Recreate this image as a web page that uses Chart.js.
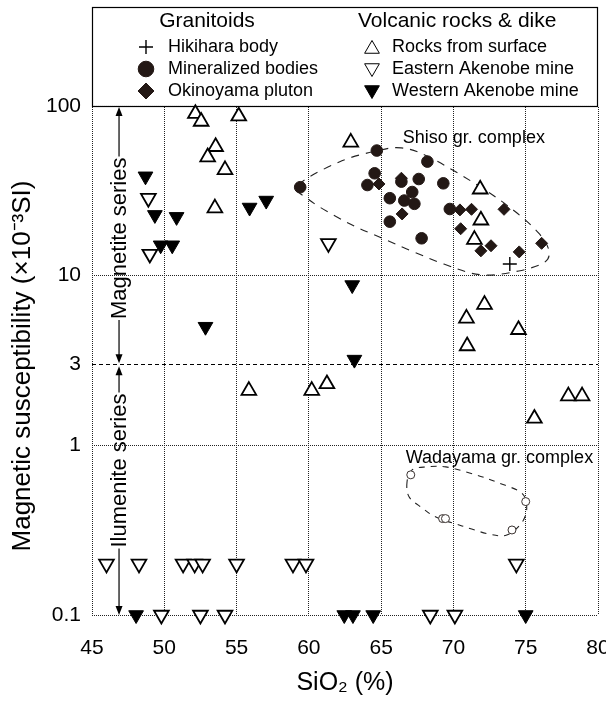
<!DOCTYPE html>
<html>
<head>
<meta charset="utf-8">
<script src="https://cdn.jsdelivr.net/npm/chart.js@4.4.0/dist/chart.umd.min.js"></script>
<style>
  html, body { margin: 0; padding: 0; background: #fff; }
  #wrap { width: 606px; height: 702px; }
</style>
</head>
<body>
<div id="wrap"><canvas id="chart"></canvas></div>
<script>
// ======= data (SiO2 %, magnetic susceptibility x10^-3 SI) =======
const xTicks = [45, 50, 55, 60, 65, 70, 75, 80];
const yTicks = [0.1, 1, 3, 10, 100];

const hikihara = [[73.9, 11.7]];

const mineralized = [
  [59.4, 33.2], [64.7, 54.6], [68.2, 47.0], [64.55, 40.1], [64.05, 34.2],
  [66.4, 35.8], [67.6, 37.1], [69.3, 35.0], [65.6, 28.6], [67.15, 31.1],
  [66.6, 27.7], [67.3, 26.5], [65.6, 20.8], [67.8, 16.6], [69.75, 24.7]
];

const okinoyama = [
  [64.85, 34.7], [66.4, 37.5], [66.45, 23.1], [70.45, 24.4], [71.25, 24.6],
  [73.5, 24.6], [70.5, 18.9], [71.9, 14.0], [72.6, 15.0], [74.55, 13.8], [76.1, 15.5]
];

const surface = [
  [52.15, 90], [52.55, 81], [55.15, 87], [53.55, 57.5], [53.0, 50], [54.2, 42],
  [53.5, 25], [62.9, 61], [71.85, 32.3], [71.9, 21.2], [71.45, 16.3], [72.15, 6.75],
  [70.9, 5.6], [74.5, 4.8], [70.95, 3.85], [55.85, 2.1], [60.2, 2.1], [61.25, 2.3],
  [77.95, 1.95], [78.9, 1.95], [75.6, 1.44]
];

const eastern = [
  [48.9, 28.6], [49.0, 13.4], [61.35, 15.5],
  [46.0, 0.2], [48.25, 0.2], [51.3, 0.2], [52.1, 0.2], [52.65, 0.2], [55.0, 0.2],
  [58.9, 0.2], [59.8, 0.2], [74.35, 0.2],
  [49.8, 0.1], [52.5, 0.1], [54.2, 0.1], [68.4, 0.1], [70.1, 0.1]
];

const western = [
  [48.7, 38.5], [49.35, 22.8], [50.85, 22.2], [49.75, 15.1], [50.55, 15.1],
  [55.9, 25.2], [57.05, 27.7], [52.85, 5.0], [63.0, 8.8], [63.15, 3.2],
  [48.05, 0.1], [62.45, 0.1], [63.05, 0.1], [64.45, 0.1], [75.0, 0.1]
];

const wadayama = [[67.05, 0.67], [69.25, 0.37], [69.45, 0.37], [75.0, 0.466], [74.05, 0.317]];

// outlines of the two complexes (data coords)
const shisoOutline = [
  [59.28, 34.2], [62.1, 46.8], [64.66, 54.3], [66.38, 56.6], [68.31, 50.1],
  [71.97, 32.9], [74.31, 23.7], [75.9, 17.8], [76.59, 14.2], [76.31, 12.0],
  [74.52, 10.66], [71.97, 10.1], [69.34, 11.7], [65.0, 16.7], [62.59, 20.7], [60.03, 27.9]
];
const wadayamaOutline = [
  [66.79, 0.608], [66.93, 0.497], [67.83, 0.428], [68.79, 0.378], [70.59, 0.335],
  [72.45, 0.30], [73.69, 0.296], [74.72, 0.349], [75.07, 0.428], [74.72, 0.524],
  [73.14, 0.60], [71.55, 0.67], [69.48, 0.746], [68.1, 0.746], [67.14, 0.716]
];

const F = '"Liberation Sans", Arial, Helvetica, sans-serif';
const DARK = '#231815';

const toXY = arr => arr.map(([x, y]) => ({ x, y }));

// marker styles, shared by datasets and legend
const styles = {
  hikihara:    { pointStyle: 'cross', radius: 7, rotation: 0, borderWidth: 1.4, fill: '#000', stroke: '#000' },
  mineralized: { pointStyle: 'circle', radius: 5.8, rotation: 0, borderWidth: 1, fill: DARK, stroke: DARK },
  okinoyama:   { pointStyle: 'rectRot', radius: 6, rotation: 0, borderWidth: 1, fill: DARK, stroke: DARK },
  surface:     { pointStyle: 'triangle', radius: 8.5, rotation: 0, borderWidth: 1.8, fill: '#fff', stroke: '#000' },
  eastern:     { pointStyle: 'triangle', radius: 8.5, rotation: 180, borderWidth: 1.8, fill: '#fff', stroke: '#000' },
  western:     { pointStyle: 'triangle', radius: 8.5, rotation: 180, borderWidth: 1, fill: '#000', stroke: '#000' },
  wadayama:    { pointStyle: 'circle', radius: 4, rotation: 0, borderWidth: 1, fill: '#fff', stroke: '#3a3230' }
};

function ds(label, arr, s) {
  return {
    label, data: toXY(arr),
    pointStyle: s.pointStyle, pointRadius: s.radius, pointRotation: s.rotation,
    pointBorderWidth: s.borderWidth, pointBackgroundColor: s.fill, pointBorderColor: s.stroke,
    showLine: false, clip: false
  };
}

// ======= drawing helpers =======
function drawLoop(ctx, pts, xs, ys, dash) {
  const p = pts.map(([a, b]) => [xs.getPixelForValue(a), ys.getPixelForValue(b)]);
  const n = p.length;
  ctx.beginPath();
  ctx.moveTo(p[0][0], p[0][1]);
  for (let i = 0; i < n; i++) {
    const p0 = p[(i - 1 + n) % n], p1 = p[i], p2 = p[(i + 1) % n], p3 = p[(i + 2) % n];
    ctx.bezierCurveTo(
      p1[0] + (p2[0] - p0[0]) / 6, p1[1] + (p2[1] - p0[1]) / 6,
      p2[0] - (p3[0] - p1[0]) / 6, p2[1] - (p3[1] - p1[1]) / 6,
      p2[0], p2[1]);
  }
  ctx.setLineDash(dash);
  ctx.lineWidth = 1.1;
  ctx.strokeStyle = '#222';
  ctx.stroke();
  ctx.setLineDash([]);
}

function arrowHead(ctx, x, y, dir) { // dir 1 = down, -1 = up
  ctx.beginPath();
  ctx.moveTo(x, y);
  ctx.lineTo(x - 3.5, y - dir * 9);
  ctx.lineTo(x + 3.5, y - dir * 9);
  ctx.closePath();
  ctx.fill();
}

// vertical arrow with rotated text in the middle
function seriesArrow(ctx, x, yTop, yBot, yText, text) {
  ctx.save();
  ctx.font = '22px ' + F;
  const w = ctx.measureText(text).width;
  ctx.strokeStyle = '#000';
  ctx.fillStyle = '#000';
  ctx.lineWidth = 1.2;
  ctx.beginPath();
  ctx.moveTo(x, yTop + 4);
  ctx.lineTo(x, yText - w / 2 - 1);
  ctx.moveTo(x, yText + w / 2 + 1);
  ctx.lineTo(x, yBot - 4);
  ctx.stroke();
  arrowHead(ctx, x, yTop, -1);
  arrowHead(ctx, x, yBot, 1);
  ctx.translate(x, yText);
  ctx.rotate(-Math.PI / 2);
  ctx.textAlign = 'center';
  ctx.textBaseline = 'middle';
  ctx.fillText(text, 0, 1);
  ctx.restore();
}

const overlay = {
  id: 'overlay',
  beforeDatasetsDraw(chart) {
    const { ctx, chartArea: a, scales: { x, y } } = chart;
    const y100 = y.getPixelForValue(100);
    ctx.save();
    // legend box over the top of the plot
    ctx.fillStyle = '#fff';
    ctx.fillRect(a.left - 1, a.top - 1, a.right - a.left + 2, y100 - a.top + 1);
    ctx.strokeStyle = '#000';
    ctx.lineWidth = 1.2;
    ctx.strokeRect(a.left + 0.5, a.top + 0.5, a.right - a.left - 1, Math.round(y100) - a.top);

    drawLoop(ctx, shisoOutline, x, y, [8, 7]);
    drawLoop(ctx, wadayamaOutline, x, y, [6, 6]);

    // series arrows
    const ax = x.getPixelForValue(46.87);
    seriesArrow(ctx, ax, y100 + 1, y.getPixelForValue(3) - 1, y.getPixelForValue(16.6), 'Magnetite series');
    seriesArrow(ctx, ax, y.getPixelForValue(3) + 2, y.getPixelForValue(0.1), y.getPixelForValue(0.71), 'Ilumenite series');

    // complex labels
    ctx.fillStyle = '#000';
    ctx.font = '18px ' + F;
    ctx.textAlign = 'left';
    ctx.textBaseline = 'middle';
    ctx.fillText('Shiso gr. complex', x.getPixelForValue(66.5), y.getPixelForValue(64.8));
    ctx.fillText('Wadayama gr. complex', x.getPixelForValue(66.7), y.getPixelForValue(0.84));

    // y axis title, centred like the original (not on the axis middle)
    ctx.save();
    ctx.font = '26px ' + F;
    ctx.textAlign = 'center';
    ctx.textBaseline = 'middle';
    ctx.translate(23, 366);
    ctx.rotate(-Math.PI / 2);
    ctx.fillText('Magnetic susceptibility (×10⁻³SI)', 0, 0);
    ctx.restore();
    ctx.restore();
  },
  afterDatasetsDraw(chart) {
    const { ctx, chartArea: a } = chart;
    ctx.save();
    ctx.fillStyle = '#000';
    ctx.textBaseline = 'middle';
    ctx.font = '21px ' + F;
    ctx.textAlign = 'center';
    ctx.fillText('Granitoids', 207, a.top + 14);
    ctx.textAlign = 'left';
    ctx.fillText('Volcanic rocks & dike', 358, a.top + 14);

    const rows = [a.top + 40, a.top + 62, a.top + 84];
    const items = [
      ['hikihara', 'Hikihara body', 146, 168, 0],
      ['mineralized', 'Mineralized bodies', 146, 168, 1],
      ['okinoyama', 'Okinoyama pluton', 146, 168, 2],
      ['surface', 'Rocks from surface', 372, 392, 0],
      ['eastern', 'Eastern Akenobe mine', 372, 392, 1],
      ['western', 'Western Akenobe mine', 372, 392, 2]
    ];
    ctx.font = '18px ' + F;
    items.forEach(([key, text, mx, tx, r]) => {
      const s = styles[key];
      const big = key === 'mineralized' || key === 'okinoyama';
      ctx.fillStyle = s.fill;
      ctx.strokeStyle = s.stroke;
      ctx.lineWidth = key === 'surface' || key === 'eastern' ? 1 : s.borderWidth;
      const yy = rows[r] + (s.pointStyle === 'triangle' ? (s.rotation ? -1 : 2) : 0);
      Chart.helpers.drawPoint(ctx, {
        pointStyle: s.pointStyle, radius: big ? s.radius + 2 : s.radius, rotation: s.rotation,
        borderWidth: ctx.lineWidth
      }, mx, yy);
      ctx.fillStyle = '#000';
      ctx.fillText(text, tx, rows[r]);
    });
    ctx.restore();
  }
};

// ======= chart =======
new Chart(document.getElementById('chart'), {
  type: 'scatter',
  data: {
    datasets: [
      ds('Hikihara body', hikihara, styles.hikihara),
      ds('Mineralized bodies', mineralized, styles.mineralized),
      ds('Okinoyama pluton', okinoyama, styles.okinoyama),
      ds('Rocks from surface', surface, styles.surface),
      ds('Eastern Akenobe mine', eastern, styles.eastern),
      ds('Western Akenobe mine', western, styles.western),
      ds('Wadayama gr. complex', wadayama, styles.wadayama)
    ]
  },
  options: {
    responsive: true,
    maintainAspectRatio: false,
    animation: false,
    events: [],
    layout: { autoPadding: false, padding: { top: 7, right: 8, left: 0, bottom: 0 } },
    plugins: { legend: { display: false }, tooltip: { enabled: false } },
    scales: {
      x: {
        type: 'linear', min: 45, max: 80,
        afterBuildTicks: s => { s.ticks = xTicks.map(v => ({ value: v })); },
        afterFit: s => { s.height = 87; s.paddingLeft = 0; s.paddingRight = 0; },
        grid: { color: '#222', lineWidth: 1, drawTicks: false },
        border: { display: false, dash: [1, 1] },
        ticks: { font: { family: F, size: 21 }, color: '#000', padding: 21, maxRotation: 0 },
        title: { display: true, text: 'SiO₂ (%)', font: { family: F, size: 25 }, color: '#000', padding: { top: 0, bottom: 4 } }
      },
      y: {
        type: 'logarithmic', min: 0.1, max: 383,
        afterBuildTicks: s => { s.ticks = yTicks.map(v => ({ value: v })); },
        afterFit: s => { s.width = 92; s.paddingTop = 0; s.paddingBottom = 0; },
        grid: { color: c => (c.tick && c.tick.value === 3 ? '#000' : '#222'), lineWidth: 1, drawTicks: false },
        border: { display: false, dash: c => (c.tick && c.tick.value === 3 ? [4, 3] : [1, 1]) },
        ticks: { font: { family: F, size: 21 }, color: '#000', padding: 11, callback: v => String(v) }
      }
    }
  },
  plugins: [overlay]
});
</script>
</body>
</html>
